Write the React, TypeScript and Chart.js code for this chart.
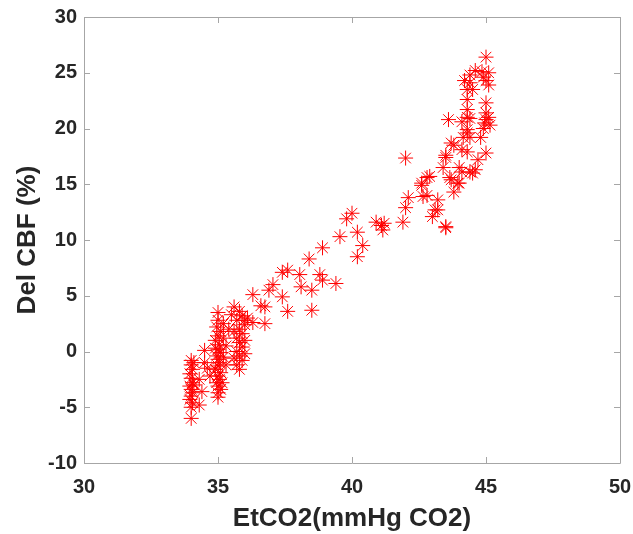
import { useEffect, useRef } from "react";
import { Chart, registerables } from "chart.js";
Chart.register(...registerables);

const etco2 = [
  34.0, 34.0, 34.05, 33.95, 34.0, 34.05, 33.95, 34.0, 34.05, 34.0, 33.95, 34.05, 34.0, 34.0, 34.1, 34.1,
  34.3, 34.4, 34.5, 34.6, 34.3, 34.7, 34.5,
  35.0, 35.0, 34.95, 35.1, 35.0, 34.9, 35.05, 35.0, 35.1, 34.95, 35.0, 35.05, 35.0, 34.9, 35.1, 35.0, 35.05, 34.95, 35.0, 35.1, 35.0, 35.0,
  35.2, 35.2, 35.15, 34.9, 35.3, 35.3, 35.4, 35.2,
  35.6, 35.8, 35.9, 35.7, 36.0, 35.8, 35.9, 35.7, 35.8, 35.9, 35.7, 35.8, 35.9, 35.7, 35.8, 35.6, 35.6, 36.0, 36.1, 35.5, 36.0,
  36.0, 36.3, 36.75,
  36.3, 36.6, 36.75, 36.9, 37.05, 37.4, 37.6, 37.4, 37.6, 38.05, 38.1, 38.5, 38.5, 38.8, 38.9, 39.4, 38.4, 38.9, 39.55, 39.8,
  40.0, 40.2, 40.4, 40.2, 40.9, 41.1, 41.15, 41.2,
  42.0, 41.9, 42.0, 42.1, 42.6, 42.8, 42.65, 43.0, 43.2, 43.2, 43.5, 43.4, 43.5, 43.7, 43.7, 43.8, 43.95, 44.0, 44.1, 44.3,
  44.4, 44.6, 44.7, 45.0, 44.15, 44.3,
  45.0, 44.4, 44.85, 45.1, 44.4, 44.3, 45.0, 45.1, 44.5, 44.3, 45.0, 44.3, 45.0, 43.6, 44.1, 44.4, 44.95, 45.15, 44.9, 44.3,
  44.4, 44.8, 43.8, 43.5, 44.5, 43.65, 44.1, 42.9, 44.0, 42.6, 42.8, 43.1, 43.5,
  44.2, 44.6, 44.9, 45.0, 44.3, 45.1,
];

const delCbf = [
  -0.8, -1.2, -1.6, -2.0, -2.4, -2.8, -3.1, -3.4, -3.7, -4.0, -4.3, -4.6, -5.0, -6.0, -3.0, -1.0,
  -2.5, -3.6, 0.1, -1.5, -4.8, -2.2, -1.0,
  3.5, 2.8, 2.2, 1.8, 1.4, 1.0, 0.6, 0.2, -0.1, -0.4, -0.7, -1.0, -1.3, -1.6, -1.9, -2.2, -2.5, -2.8, -3.1, -3.4, -3.7, -4.1,
  -0.5, 1.2, -2.8, 0.3, -1.2, 0.5, 2.0, 2.5,
  4.0, 3.6, 3.2, 2.8, 2.4, 2.0, 1.6, 1.2, 0.8, 0.4, 0.0, -0.4, -0.8, -1.2, -1.6, -0.6, 1.8, 1.0, 3.0, 3.3, -0.2,
  2.8, 2.6, 2.5,
  5.1, 4.1, 4.0, 5.5, 6.0, 4.9, 3.6, 7.1, 7.3, 6.9, 5.8, 5.5, 3.7, 6.9, 6.4, 6.1, 8.3, 9.3, 10.3, 11.9,
  12.4, 10.7, 9.5, 8.5, 11.6, 11.3, 10.9, 11.5,
  17.35, 11.6, 12.9, 13.8, 14.9, 15.6, 13.9, 12.1, 12.7, 13.6, 11.2, 16.5, 17.6, 18.7, 15.4, 14.3, 15.1, 16.5, 18.1, 17.9,
  16.1, 16.3, 17.2, 17.8, 19.2, 19.6,
  26.4, 24.8, 25.1, 25.0, 24.1, 23.5, 24.3, 23.9, 23.5, 22.6, 22.3, 21.7, 21.4, 20.8, 20.6, 20.9, 20.5, 20.3, 20.0, 19.9,
  19.2, 19.2, 18.5, 17.4, 16.0, 15.6, 16.1, 15.7, 15.1, 15.1, 14.0, 12.7, 11.1,
  24.3, 25.2, 24.6, 20.8, 21.0, 21.0,
];

const xTicks = [30, 35, 40, 45, 50];
const yTicks = [-10, -5, 0, 5, 10, 15, 20, 25, 30];
const xLabel = "EtCO2(mmHg CO2)";
const yLabel = "Del CBF (%)";

const FONT = "'Liberation Sans', Arial, Helvetica, sans-serif";
const TEXT = "#262626";

const boxPlugin = {
  id: "matlabBox",
  afterDraw(chart: any) {
    const { ctx, chartArea } = chart;
    const { left, right, top, bottom } = chartArea;
    const xs = chart.scales.x;
    const ys = chart.scales.y;
    ctx.save();
    ctx.strokeStyle = "#a6a6a6";
    ctx.lineWidth = 1;
    ctx.beginPath();
    ctx.rect(Math.round(left) + 0.5, Math.round(top) + 0.5, Math.round(right - left), Math.round(bottom - top));
    ctx.stroke();
    const tl = 6;
    ctx.beginPath();
    xTicks.forEach((v) => {
      const px = Math.round(xs.getPixelForValue(v)) + 0.5;
      ctx.moveTo(px, bottom);
      ctx.lineTo(px, bottom - tl);
      ctx.moveTo(px, top);
      ctx.lineTo(px, top + tl);
    });
    yTicks.forEach((v) => {
      const py = Math.round(ys.getPixelForValue(v)) + 0.5;
      ctx.moveTo(left, py);
      ctx.lineTo(left + tl, py);
      ctx.moveTo(right, py);
      ctx.lineTo(right - tl, py);
    });
    ctx.stroke();
    ctx.restore();
  },
};

export default function App() {
  const ref = useRef<HTMLCanvasElement | null>(null);
  useEffect(() => {
    if (!ref.current) return;
    const points = etco2.map((x, i) => ({ x, y: delCbf[i] }));
    const chart = new Chart(ref.current, {
      type: "scatter",
      data: {
        datasets: [
          {
            data: points,
            pointStyle: "star",
            pointRadius: 7.5,
            pointBorderWidth: 1,
            borderColor: "rgb(255,0,0)",
            backgroundColor: "rgb(255,0,0)",
            pointHoverRadius: 7.5,
          },
        ],
      },
      options: {
        animation: false,
        responsive: true,
        maintainAspectRatio: false,
        layout: { padding: { top: 17, right: 13, left: 0, bottom: 0 } },
        plugins: { legend: { display: false }, tooltip: { enabled: false } },
        scales: {
          x: {
            type: "linear",
            min: 30,
            max: 50,
            afterBuildTicks: (s: any) => {
              s.ticks = xTicks.map((v) => ({ value: v }));
            },
            afterFit: (s: any) => {
              s.height = 71;
              s.paddingLeft = 0;
              s.paddingRight = 0;
            },
            grid: { display: false, drawTicks: false },
            border: { display: false },
            ticks: {
              color: TEXT,
              padding: 12,
              font: { family: FONT, size: 20, weight: "bold" },
            },
            title: {
              display: true,
              text: xLabel,
              color: TEXT,
              font: { family: FONT, size: 26, weight: "bold" },
              padding: { top: 0, bottom: 0 },
            },
          },
          y: {
            type: "linear",
            min: -10,
            max: 30,
            afterBuildTicks: (s: any) => {
              s.ticks = yTicks.map((v) => ({ value: v }));
            },
            afterFit: (s: any) => {
              s.width = 84;
              s.paddingTop = 0;
              s.paddingBottom = 0;
            },
            grid: { display: false, drawTicks: false },
            border: { display: false },
            ticks: {
              color: TEXT,
              padding: 7,
              font: { family: FONT, size: 20, weight: "bold" },
            },
            title: {
              display: true,
              text: yLabel,
              color: TEXT,
              font: { family: FONT, size: 26, weight: "bold" },
              padding: { top: 12, bottom: 0 },
            },
          },
        },
      },
      plugins: [boxPlugin],
    });
    return () => chart.destroy();
  }, []);
  return (
    <div style={{ position: "fixed", left: 0, top: 0, width: 633, height: 534, background: "#fff" }}>
      <canvas ref={ref} />
    </div>
  );
}
